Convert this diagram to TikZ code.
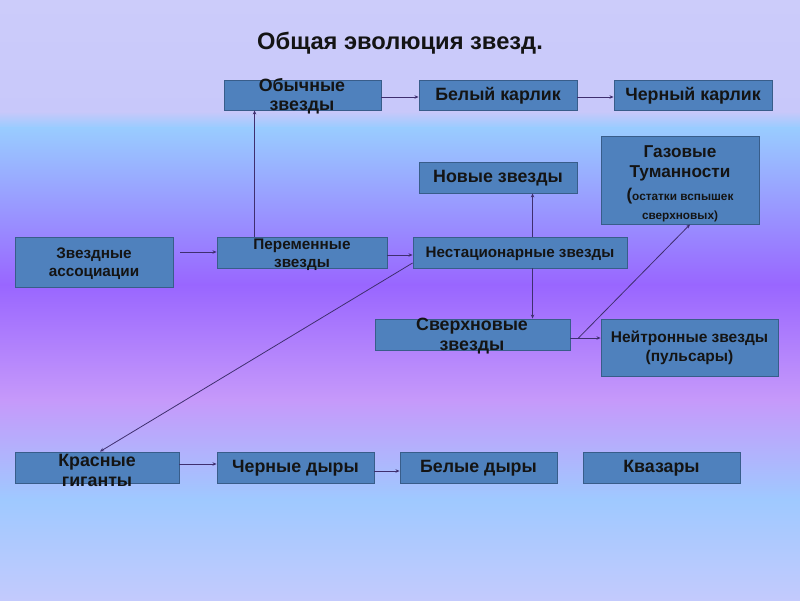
\documentclass[tikz,border=0pt]{standalone}
\usepackage{fontspec}
\setmainfont{Liberation Sans}
\usetikzlibrary{arrows.meta}
\definecolor{bgA}{HTML}{CCCCFA}
\definecolor{bgB}{HTML}{C8C8FA}
\definecolor{bgC}{HTML}{99CCFF}
\definecolor{bgD}{HTML}{9966FF}
\definecolor{bgE}{HTML}{C699FA}
\definecolor{bgF}{HTML}{9FC9FF}
\definecolor{bgG}{HTML}{C3CAFD}
\definecolor{boxfill}{HTML}{4F81BD}
\definecolor{boxline}{HTML}{385D8A}
\definecolor{conn}{HTML}{3F2F6F}
\definecolor{txt}{HTML}{141414}
\tikzset{
  box/.style={draw=boxline, fill=boxfill, line width=0.9pt, inner sep=0pt},
  arr/.style={draw=conn, line width=0.8pt, -{Stealth[length=4pt,width=3.5pt]}},
  lbl/.style={text=txt, align=center, font=\bfseries\fontsize{17.8}{19}\selectfont, inner sep=0pt},
  lbls/.style={text=txt, align=center, font=\bfseries\fontsize{15.3}{17.5}\selectfont, inner sep=0pt}
}
\begin{document}
\begin{tikzpicture}[x=1pt,y=-1pt]
\useasboundingbox (0,0) rectangle (800,600);
% background
\shade[top color=bgA, bottom color=bgB] (0,0) rectangle (800,112);
\shade[top color=bgB, bottom color=bgC] (0,111.5) rectangle (800,128);
\shade[top color=bgC, bottom color=bgD] (0,127.5) rectangle (800,285);
\shade[top color=bgD, bottom color=bgE] (0,284.5) rectangle (800,400);
\shade[top color=bgE, bottom color=bgF] (0,399.5) rectangle (800,500);
\shade[top color=bgF, bottom color=bgG] (0,499.5) rectangle (800,600);

% title
\node[text=txt, font=\bfseries\fontsize{23.7}{28}\selectfont] (title) at (400,43.5) {Общая эволюция звезд.};

% boxes
\node[box, minimum width=157, minimum height=30] (ob) at (302.5,95) {};
\node[box, minimum width=158, minimum height=30] (bk) at (498,95) {};
\node[box, minimum width=158, minimum height=30] (ck) at (693,95) {};
\node[box, minimum width=158, minimum height=88] (ga) at (680,180) {};
\node[box, minimum width=158, minimum height=31] (nv) at (498,177.5) {};
\node[box, minimum width=158, minimum height=50] (za) at (94,262) {};
\node[box, minimum width=170, minimum height=31] (pe) at (302,252.5) {};
\node[box, minimum width=214, minimum height=31] (ne) at (520,252.5) {};
\node[box, minimum width=195, minimum height=31] (sv) at (472.5,334.5) {};
\node[box, minimum width=177, minimum height=57] (nt) at (689.5,347.5) {};
\node[box, minimum width=164, minimum height=31] (kr) at (97,467.5) {};
\node[box, minimum width=157, minimum height=31] (cd) at (295.5,467.5) {};
\node[box, minimum width=157, minimum height=31] (bd) at (478.5,467.5) {};
\node[box, minimum width=157, minimum height=31] (kv) at (661.5,467.5) {};

% texts
\node[lbl, font=\bfseries\fontsize{17.8}{19.5}\selectfont] (tob) at (302,96) {Обычные\\звезды};
\node[lbl] (tbk) at ([yshift=-1pt]bk.center) {Белый карлик};
\node[lbl] (tck) at ([yshift=-1pt]ck.center) {Черный карлик};
\node[lbl, font=\bfseries\fontsize{17.2}{20}\selectfont] (tga) at (680,163) {Газовые\\Туманности};
\node[text=txt, align=center, inner sep=0pt, font=\bfseries\fontsize{11.8}{18.5}\selectfont] (tga2) at (680,205) {{\fontsize{17}{18.5}\selectfont(}остатки вспышек\\сверхновых)};
\node[lbl] (tnv) at ([yshift=-1pt]nv.center) {Новые звезды};
\node[lbls] (tza) at (94,263.5) {Звездные\\ассоциации};
\node[lbls, font=\bfseries\fontsize{15.3}{18}\selectfont] (tpe) at (302,255) {Переменные\\звезды};
\node[lbl, font=\bfseries\fontsize{15.2}{16}\selectfont] (tne) at ([yshift=-1pt]ne.center) {Нестационарные звезды};
\node[lbl, font=\bfseries\fontsize{17.8}{20}\selectfont] (tsv) at (472,336) {Сверхновые\\звезды};
\node[lbl, font=\bfseries\fontsize{15.5}{19}\selectfont] (tnt) at (689.5,348) {Нейтронные звезды\\(пульсары)};
\node[lbl, font=\bfseries\fontsize{17.8}{20}\selectfont] (tkr) at (97,470) {Красные\\гиганты};
\node[lbl] (tcd) at ([yshift=-1pt]cd.center) {Черные дыры};
\node[lbl] (tbd) at ([yshift=-1pt]bd.center) {Белые дыры};
\node[lbl] (tkv) at ([yshift=-1pt]kv.center) {Квазары};

% connectors
\coordinate (a1) at ([yshift=-2pt]ob.east);
\draw[arr] (a1) -- (a1 -| bk.west);
\coordinate (a2) at ([yshift=-2pt]bk.east);
\draw[arr] (a2) -- (a2 -| ck.west);
\coordinate (a3) at ([xshift=38pt]pe.north west);
\draw[arr] (a3) -- (a3 |- ob.south);
\coordinate (a4) at ([xshift=7pt,yshift=10pt]za.east);
\draw[arr] (a4) -- (a4 -| pe.west);
\coordinate (a5) at ([yshift=-2.5pt]pe.east);
\draw[arr] (a5) -- (a5 -| ne.west);
\coordinate (a6) at ([xshift=120pt]ne.north west);
\draw[arr] (a6) -- (a6 |- nv.south);
\coordinate (a7) at ([xshift=120pt]ne.south west);
\draw[arr] (a7) -- (a7 |- sv.north);
\draw[arr] ([yshift=-10.5pt]ne.west) -- ([xshift=3pt]kr.north);
\coordinate (a8) at ([yshift=-3.5pt]sv.east);
\draw[arr] (a8) -- (a8 -| nt.west);
\draw[arr] ([xshift=8pt,yshift=-3.5pt]sv.east) -- ([xshift=10pt]ga.south);
\coordinate (a9) at ([yshift=3.5pt]kr.east);
\draw[arr] (a9) -- (a9 -| cd.west);
\coordinate (a10) at ([yshift=-3.5pt]cd.east);
\draw[arr] (a10) -- (a10 -| bd.west);
\end{tikzpicture}
\end{document}
